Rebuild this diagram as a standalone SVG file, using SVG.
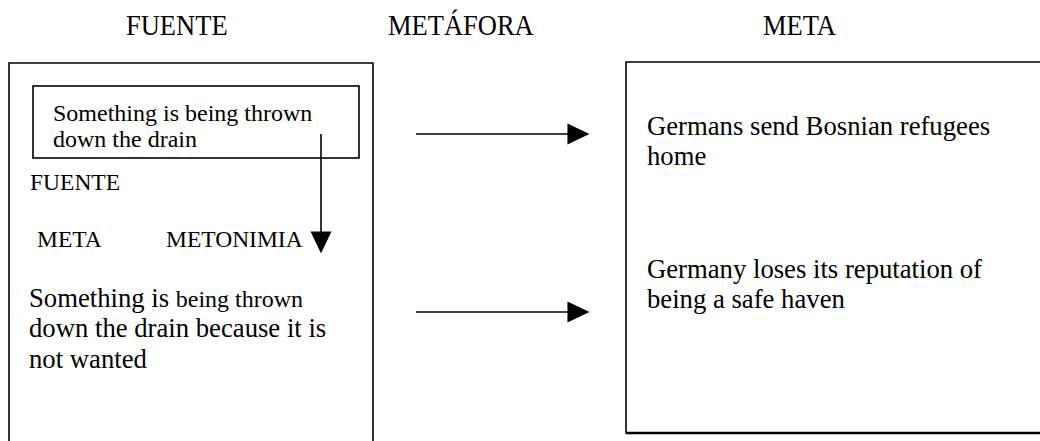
<svg xmlns="http://www.w3.org/2000/svg" width="1040" height="441" viewBox="0 0 1040 441">
  <defs>
    <style>
      text { font-family: "Liberation Serif", "Times New Roman", serif; fill: #000; }
      .head { font-size: 26.5px; }
      .label { font-size: 23.5px; }
      .inner { font-size: 24px; }
      .body { font-size: 26.7px; }
      .frame { fill: none; stroke: #000; stroke-width: 1.6; }
      .link { fill: none; stroke: #000; stroke-width: 1.6; marker-end: url(#arrow); }
    </style>
    <marker id="arrow" markerUnits="userSpaceOnUse" markerWidth="22" markerHeight="22" viewBox="0 0 21 20" refX="12" refY="10" orient="auto">
      <path d="M0,0 L21,10 L0,20 Z" fill="#000"/>
    </marker>
  </defs>

  <!-- column headings (set slightly tall) -->
  <g id="headings">
    <text class="head" transform="translate(126,35) scale(1,1.08)">FUENTE</text>
    <text class="head" transform="translate(388,35) scale(1,1.08)">METÁFORA</text>
    <text class="head" transform="translate(763,35) scale(1,1.08)">META</text>
  </g>

  <!-- source domain panel -->
  <g id="source">
    <path class="frame" d="M9,442 V63 H373 V442"/>
    <g id="source-expression">
      <rect class="frame" x="33" y="86" width="326" height="72"/>
      <text class="inner" x="53" y="121">Something is being thrown</text>
      <text class="inner" x="53" y="147">down the drain</text>
    </g>
    <text class="label" x="30" y="190">FUENTE</text>
    <text class="label" x="37" y="247">META</text>
    <text class="label" x="166" y="247">METONIMIA</text>
    <g id="source-meaning">
      <text class="body" x="29" y="307">Something is <tspan font-size="24">being thrown</tspan></text>
      <text class="body" x="29" y="337">down the drain because it is</text>
      <text class="body" x="29" y="368">not wanted</text>
    </g>
  </g>

  <!-- target domain panel -->
  <g id="target">
    <path class="frame" d="M1042,62 H626 V433 H1042"/>
    <path d="M626,433 H1042" stroke="#000" stroke-width="2.6" fill="none"/>
    <g id="target-1">
      <text class="body" x="647" y="135">Germans send Bosnian refugees</text>
      <text class="body" x="647" y="165">home</text>
    </g>
    <g id="target-2">
      <text class="body" x="647" y="278">Germany loses its reputation of</text>
      <text class="body" x="647" y="308">being a safe haven</text>
    </g>
  </g>

  <!-- connectors -->
  <g id="connectors">
    <line class="link" x1="321" y1="134" x2="321" y2="244"/>
    <line class="link" x1="416" y1="134" x2="580" y2="134"/>
    <line class="link" x1="416" y1="312" x2="580" y2="312"/>
  </g>
</svg>
